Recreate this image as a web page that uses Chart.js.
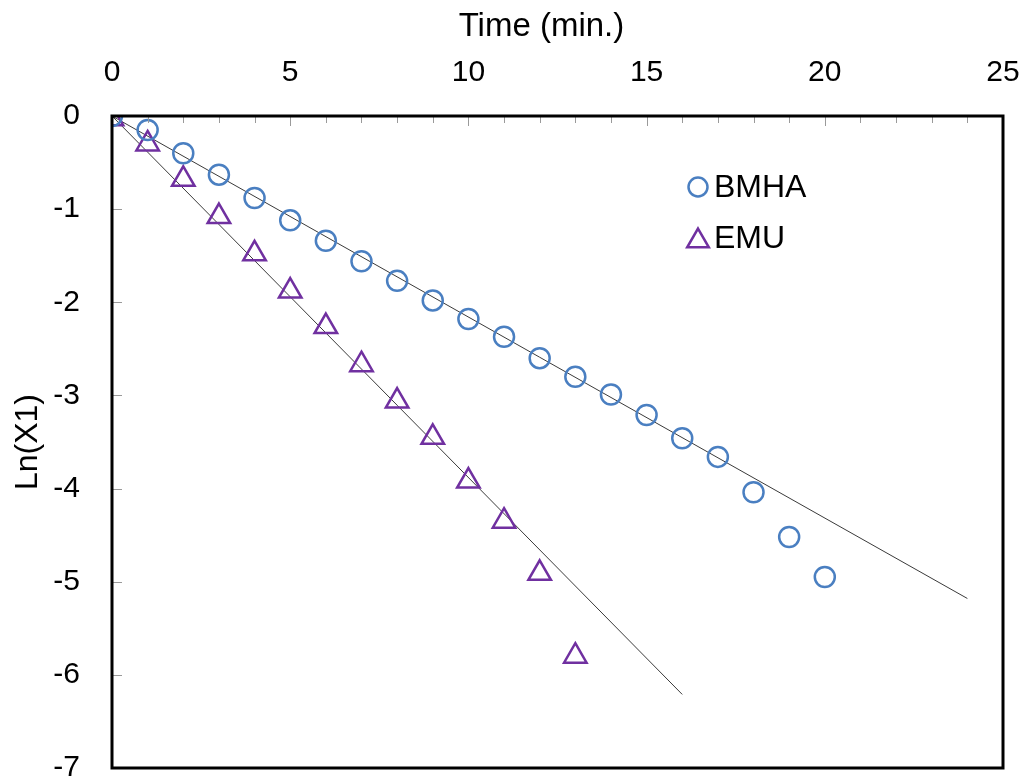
<!DOCTYPE html>
<html>
<head>
<meta charset="utf-8">
<script src="https://cdn.jsdelivr.net/npm/chart.js@4/dist/chart.umd.min.js"></script>
<style>
    html, body { margin: 0; padding: 0; background: #fff; overflow: hidden; }
    #wrap { position: relative; width: 1026px; height: 800px; }
</style>
</head>
<body>
<div id="wrap"><canvas id="chart"></canvas></div>
<script>
// Data
const timeMin = [0, 1, 2, 3, 4, 5, 6, 7, 8, 9, 10, 11, 12, 13, 14, 15, 16, 17, 18, 19, 20];
const bmha = [0, -0.15, -0.40, -0.63, -0.88, -1.12, -1.34, -1.56, -1.77, -1.98, -2.18, -2.37,
              -2.60, -2.80, -2.99, -3.21, -3.46, -3.66, -4.04, -4.52, -4.95];
const emu = [-0.03, -0.30, -0.68, -1.08, -1.48, -1.88, -2.26, -2.67, -3.06, -3.45, -3.92, -4.35, -4.91, -5.80];

// fitted straight lines (end points)
const bmhaFitX = [0, 24];
const bmhaFitY = [0, -5.18];
const emuFitX = [0, 16];
const emuFitY = [0, -6.21];

const xMin = 0, xMax = 25, xMajor = 5;
const yMin = -7, yMax = 0;
const xTitle = 'Time (min.)';
const yTitle = 'Ln(X1)';

const FONT = "'Liberation Sans', Arial, sans-serif";
const BLUE = '#4a7fc1';
const PURPLE = '#7030a0';

const toPoints = (xs, ys) => ys.map((y, i) => ({ x: xs[i], y: y }));

// ticks drawn inside the plot, box around it, top title, legend inside the plot
const framePlugin = {
    id: 'frame',
    afterDraw(chart) {
        const { ctx, chartArea: a, scales } = chart;
        ctx.save();
        ctx.strokeStyle = '#9a9a9a';
        ctx.lineWidth = 1;
        scales.x.ticks.forEach(t => {
            const px = Math.round(scales.x.getPixelForValue(t.value)) + 0.5;
            const len = t.value % xMajor === 0 ? 10 : 7;
            ctx.beginPath();
            ctx.moveTo(px, a.top);
            ctx.lineTo(px, a.top + len);
            ctx.stroke();
        });
        scales.y.ticks.forEach(t => {
            const py = Math.round(scales.y.getPixelForValue(t.value)) + 0.5;
            ctx.beginPath();
            ctx.moveTo(a.left, py);
            ctx.lineTo(a.left + 10, py);
            ctx.stroke();
        });

        ctx.strokeStyle = '#000';
        ctx.lineWidth = 3;
        ctx.strokeRect(a.left, a.top, a.right - a.left, a.bottom - a.top);

        // axis title above the top axis
        ctx.fillStyle = '#000';
        ctx.font = '33px ' + FONT;
        ctx.textAlign = 'center';
        ctx.textBaseline = 'middle';
        ctx.fillText(xTitle, a.left + 0.482 * (a.right - a.left), 27);

        // legend
        const lx = a.left + 586;
        const ly = a.top + 71;
        const entries = [
            { label: 'BMHA', style: 'circle', color: BLUE, r: 9.5, dy: 0 },
            { label: 'EMU', style: 'triangle', color: PURPLE, r: 12.5, dy: 3 }
        ];
        ctx.font = '32px ' + FONT;
        ctx.textAlign = 'left';
        entries.forEach((e, i) => {
            const y = ly + i * 51;
            ctx.strokeStyle = e.color;
            ctx.fillStyle = 'rgba(0,0,0,0)';
            ctx.lineWidth = 2.5;
            Chart.helpers.drawPoint(ctx, { pointStyle: e.style, radius: e.r, rotation: 0, borderWidth: 2.5 },
                lx, y + e.dy);
            ctx.fillStyle = '#000';
            ctx.fillText(e.label, lx + 16, y + 1);
        });
        ctx.restore();
    }
};

new Chart(document.getElementById('chart'), {
    type: 'scatter',
    data: {
        datasets: [
            {
                label: 'BMHA',
                data: toPoints(timeMin, bmha),
                pointStyle: 'circle',
                pointRadius: 10,
                pointHoverRadius: 10,
                borderColor: BLUE,
                backgroundColor: 'rgba(0,0,0,0)',
                borderWidth: 2.5
            },
            {
                label: 'EMU',
                data: toPoints(timeMin, emu),
                pointStyle: 'triangle',
                pointRadius: 13,
                pointHoverRadius: 13,
                borderColor: PURPLE,
                backgroundColor: 'rgba(0,0,0,0)',
                borderWidth: 2.5
            },
            {
                label: 'BMHA fit',
                data: toPoints(bmhaFitX, bmhaFitY),
                showLine: true,
                pointRadius: 0,
                borderColor: '#3a3a3a',
                borderWidth: 1
            },
            {
                label: 'EMU fit',
                data: toPoints(emuFitX, emuFitY),
                showLine: true,
                pointRadius: 0,
                borderColor: '#3a3a3a',
                borderWidth: 1
            }
        ]
    },
    options: {
        responsive: true,
        maintainAspectRatio: false,
        animation: false,
        layout: { padding: { top: 0, left: 0, right: 23, bottom: 32 } },
        plugins: {
            legend: { display: false },
            tooltip: { enabled: false }
        },
        scales: {
            x: {
                type: 'linear',
                position: 'top',
                min: xMin,
                max: xMax,
                afterFit: s => {
                    s.height = 116;
                    s.paddingLeft = 0;
                    s.paddingRight = 0;
                },
                grid: { display: false, drawTicks: false },
                border: { display: false },
                ticks: {
                    stepSize: 1,
                    autoSkip: false,
                    maxRotation: 0,
                    padding: 25,
                    color: '#000',
                    font: { family: FONT, size: 30 },
                    callback: v => (v % xMajor === 0 ? String(v) : '')
                },
                title: { display: false, text: xTitle }
            },
            y: {
                type: 'linear',
                position: 'left',
                min: yMin,
                max: yMax,
                afterFit: s => {
                    s.width = 112;
                    s.paddingTop = 0;
                    s.paddingBottom = 0;
                },
                grid: { display: false, drawTicks: false },
                border: { display: false },
                ticks: {
                    stepSize: 1,
                    padding: 32,
                    color: '#000',
                    font: { family: FONT, size: 30 }
                },
                title: {
                    display: true,
                    text: yTitle,
                    color: '#000',
                    font: { family: FONT, size: 32 },
                    padding: { top: 9, bottom: 0 }
                }
            }
        }
    },
    plugins: [framePlugin]
});
</script>
</body>
</html>
